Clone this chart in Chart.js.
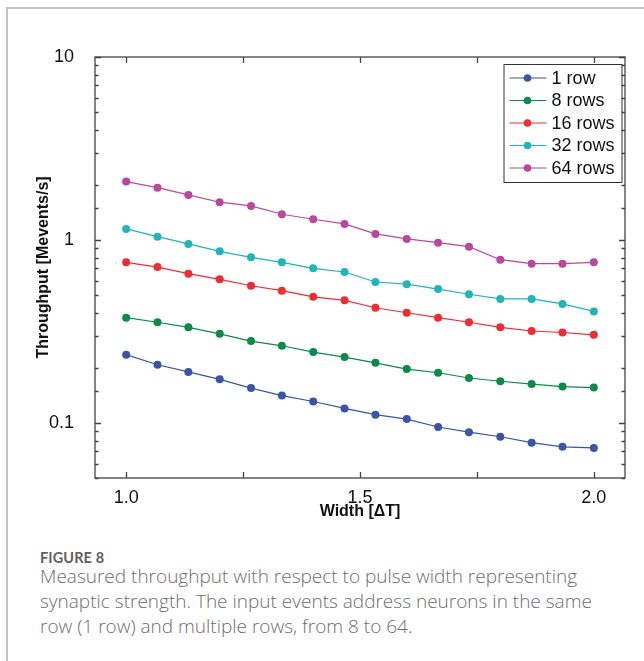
<!DOCTYPE html>
<html>
<head>
<meta charset="utf-8">
<script src="https://cdn.jsdelivr.net/npm/chart.js@4.4.1/dist/chart.umd.min.js"></script>
<style>
  body { margin: 0; background: #fff; width: 644px; height: 661px; overflow: hidden; position: relative; }
  #frame { position: absolute; left: 6px; top: 7px; right: -2px; bottom: -2px; border-left: 2px solid #c4c4c4; border-top: 2px solid #c4c4c4; }
  #chartBox { position: absolute; left: 0; top: 0; width: 644px; height: 525px; }
  .fig { position: absolute; left: 40px; top: 549px; font-family: Lato, 'Open Sans', sans-serif; font-size: 14.5px; line-height: 17px; font-weight: 700; color: #5f5f5f; letter-spacing: 0.1px; }
  .txt { position: absolute; left: 40px; top: 564px; width: 580px; font-family: 'Open Sans', Lato, sans-serif; font-size: 19px; line-height: 25px; font-weight: 300; color: #6e6e6e; }
</style>
</head>
<body>
<div id="frame"></div>
<div id="chartBox"><canvas id="myChart"></canvas></div>
<div class="fig">FIGURE 8</div>
<div class="txt">Measured throughput with respect to pulse width representing synaptic strength. The input events address neurons in the same row (1 row) and multiple rows, from 8 to 64.</div>
<script>
const widths = [1.0, 1.067, 1.133, 1.2, 1.267, 1.333, 1.4, 1.467, 1.533, 1.6, 1.667, 1.733, 1.8, 1.867, 1.933, 2.0];

const row1 = [0.236, 0.208, 0.190, 0.173, 0.155, 0.141, 0.131, 0.120, 0.111, 0.105, 0.095, 0.089, 0.084, 0.078, 0.074, 0.073];
const rows8 = [0.376, 0.355, 0.333, 0.307, 0.280, 0.264, 0.244, 0.229, 0.213, 0.197, 0.188, 0.176, 0.169, 0.163, 0.158, 0.156];
const rows16 = [0.755, 0.711, 0.654, 0.609, 0.562, 0.528, 0.489, 0.468, 0.426, 0.400, 0.376, 0.355, 0.333, 0.318, 0.312, 0.303];
const rows32 = [1.149, 1.042, 0.951, 0.867, 0.804, 0.755, 0.700, 0.668, 0.589, 0.573, 0.539, 0.505, 0.476, 0.476, 0.447, 0.407];
const rows64 = [2.085, 1.932, 1.763, 1.608, 1.535, 1.382, 1.298, 1.224, 1.079, 1.013, 0.966, 0.919, 0.780, 0.742, 0.742, 0.755];

const seriesNames = ['1 row', '8 rows', '16 rows', '32 rows', '64 rows'];
const seriesColors = ['#3a55a5', '#0b8a4a', '#ee2d33', '#20b4bb', '#b9489d'];

const xTickValues = [1.0, 1.25, 1.5, 1.75, 2.0];
const xTickLabels = ['1.0', '', '1.5', '', '2.0'];
const yTickValues = [10, 1, 0.1];
const yTickLabels = ['10', '1', '0.1'];

const axisFont = 'Liberation Sans, Arial, Helvetica, sans-serif';

function toPoints(ys) {
    return ys.map((y, i) => ({ x: widths[i], y: y }));
}

// inward tick marks + box round the plot
const frameTicks = {
    id: 'frameTicks',
    afterDraw(chart) {
        const { ctx, chartArea: a, scales } = chart;
        ctx.save();
        ctx.strokeStyle = '#444';
        ctx.lineWidth = 1.3;
        ctx.strokeRect(a.left, a.top, a.right - a.left, a.bottom - a.top);
        ctx.beginPath();
        scales.x.ticks.forEach(t => {
            const px = Math.round(scales.x.getPixelForValue(t.value)) + 0.5;
            ctx.moveTo(px, a.bottom); ctx.lineTo(px, a.bottom - 6);
            ctx.moveTo(px, a.top); ctx.lineTo(px, a.top + 6);
        });
        scales.y.ticks.forEach(t => {
            const py = Math.round(scales.y.getPixelForValue(t.value)) + 0.5;
            const lg = Math.log10(t.value);
            const len = Math.abs(lg - Math.round(lg)) < 1e-6 ? 6 : 3.5;
            ctx.moveTo(a.left, py); ctx.lineTo(a.left + len, py);
            ctx.moveTo(a.right, py); ctx.lineTo(a.right - len, py);
        });
        ctx.stroke();
        ctx.restore();
    }
};

// legend box in the upper right corner of the plot
const boxLegend = {
    id: 'boxLegend',
    afterDraw(chart) {
        const { ctx, chartArea: a } = chart;
        const w = 118, h = 118;
        const x0 = a.right - 3.5 - w, y0 = a.top + 7;
        ctx.save();
        ctx.fillStyle = '#fff';
        ctx.fillRect(x0, y0, w, h);
        ctx.strokeStyle = '#333';
        ctx.lineWidth = 1;
        ctx.strokeRect(x0 + 0.5, y0 + 0.5, w, h);
        ctx.font = '18px ' + axisFont;
        ctx.textBaseline = 'middle';
        chart.data.datasets.forEach((ds, i) => {
            const cy = y0 + 14 + i * 22.5;
            ctx.strokeStyle = ds.borderColor;
            ctx.lineWidth = 1.2;
            ctx.beginPath();
            ctx.moveTo(x0 + 6, cy); ctx.lineTo(x0 + 43, cy);
            ctx.stroke();
            ctx.fillStyle = ds.backgroundColor;
            ctx.beginPath();
            ctx.arc(x0 + 24, cy, 3.8, 0, Math.PI * 2);
            ctx.fill();
            ctx.fillStyle = '#111';
            ctx.fillText(ds.label, x0 + 48, cy + 1);
        });
        ctx.restore();
    }
};

const ctx = document.getElementById('myChart').getContext('2d');

const chart = new Chart(ctx, {
    type: 'line',
    data: {
        datasets: [row1, rows8, rows16, rows32, rows64].map((ys, i) => ({
            label: seriesNames[i],
            data: toPoints(ys),
            borderColor: seriesColors[i],
            backgroundColor: seriesColors[i],
            borderWidth: 1.2,
            pointRadius: 4,
            pointBorderWidth: 0,
            tension: 0
        }))
    },
    options: {
        responsive: true,
        maintainAspectRatio: false,
        animation: false,
        layout: {
            padding: { left: 30, top: 57, right: 19, bottom: 0 }
        },
        scales: {
            x: {
                type: 'linear',
                min: 14 / 15,
                max: 31 / 15,
                grid: { display: false },
                border: { display: false },
                afterBuildTicks: (scale) => {
                    scale.ticks = xTickValues.map(v => ({ value: v }));
                },
                afterFit: (scale) => { scale.height = 47; },
                ticks: {
                    autoSkip: false,
                    maxRotation: 0,
                    padding: 1,
                    color: '#111',
                    font: { family: axisFont, size: 18 },
                    callback: (v) => {
                        const k = xTickValues.indexOf(v);
                        return k >= 0 ? xTickLabels[k] : '';
                    }
                },
                title: {
                    display: true,
                    text: 'Width [\u0394T]',
                    color: '#111',
                    font: { family: axisFont, size: 16, weight: 'bold' },
                    padding: { top: 0, bottom: 4 }
                }
            },
            y: {
                type: 'logarithmic',
                min: 0.05,
                max: 10,
                grid: { display: false },
                border: { display: false },
                afterFit: (scale) => { scale.width = 65; },
                ticks: {
                    autoSkip: false,
                    padding: 13,
                    color: '#111',
                    font: { family: axisFont, size: 18 },
                    callback: (v) => {
                        const k = yTickValues.findIndex(t => Math.abs(t - v) < 1e-9);
                        return k >= 0 ? yTickLabels[k] : '';
                    }
                },
                title: {
                    display: true,
                    text: 'Throughput [Mevents/s]',
                    color: '#111',
                    font: { family: axisFont, size: 16, weight: 'bold' },
                    padding: { top: 4, bottom: 0 }
                }
            }
        },
        plugins: {
            legend: { display: false },
            tooltip: { enabled: false }
        }
    },
    plugins: [frameTicks, boxLegend]
});
</script>
</body>
</html>
